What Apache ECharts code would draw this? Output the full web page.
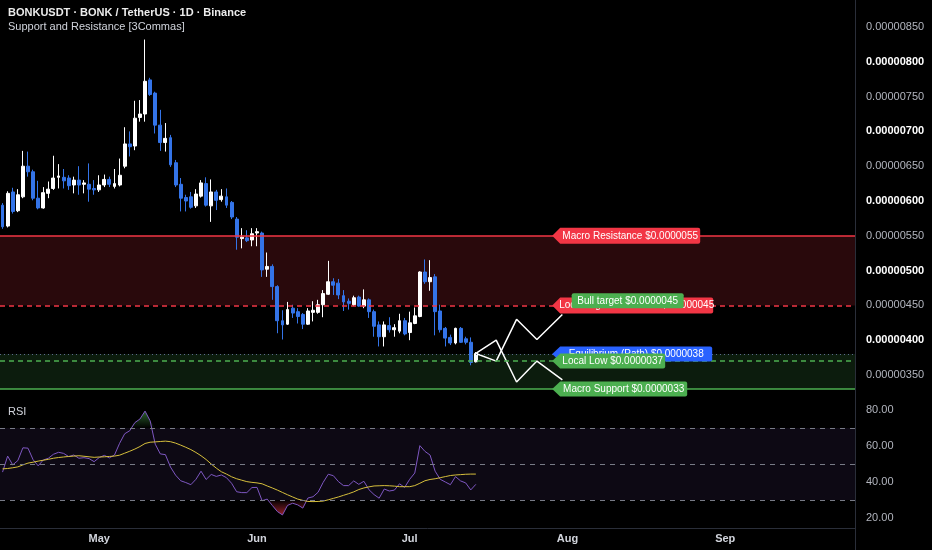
<!DOCTYPE html>
<html>
<head>
<meta charset="utf-8">
<script src="https://cdn.jsdelivr.net/npm/echarts@6/dist/echarts.min.js"></script>
<style>html,body{margin:0;padding:0;background:#000;}#c{width:932px;height:550px;}</style>
</head>
<body>
<div id="c"></div>
<script>
// ---------- DATA (prices in units of 1e-8 USDT) ----------
const startYear = 2024, startMonth = 3, startDay = 12; // first candle: Apr 12
const dayCount = 168;
const monthNames = ['Jan','Feb','Mar','Apr','May','Jun','Jul','Aug','Sep','Oct','Nov','Dec'];

// [open, close, low, high]
const candleData = [
[594,563,560,597],[564,611,562,614],[613,585,582,619],[586,609,584,617],[606,650,604,672],
[650,642,635,671],[642,604,601,645],[604,590,588,629],[590,612,589,620],[611,617,604,628],
[618,633,616,665],[634,636,618,653],[634,629,618,646],[633,622,616,637],[623,630,611,635],
[630,623,609,650],[624,626,611,630],[624,617,599,654],[618,616,609,630],[616,623,613,637],
[623,631,620,638],[631,624,620,635],[621,625,618,646],[623,637,621,661],[650,682,647,706],
[682,678,664,700],[679,719,673,744],[720,725,714,745],[725,772,714,832],[774,753,751,777],
[755,709,697,757],[709,684,672,731],[684,690,671,712],[691,652,649,695],[655,623,620,659],
[624,604,585,633],[605,600,585,609],[606,591,589,613],[593,610,590,617],[607,626,605,630],
[625,594,592,634],[593,613,570,631],[613,601,587,616],[602,607,599,617],[606,594,590,618],
[598,577,574,600],[574,548,530,577],[546,548,532,561],[547,543,541,558],[544,553,535,561],
[554,556,535,561],[554,501,491,556],[502,506,491,526],[506,477,458,509],[477,428,410,479],
[428,422,401,443],[423,444,422,455],[446,439,432,451],[441,434,424,446],[437,423,416,439],
[423,442,422,446],[440,443,427,456],[440,451,438,458],[451,467,433,472],[466,484,465,514],
[484,479,465,489],[482,465,459,488],[464,455,442,472],[456,453,444,460],[451,461,449,464],
[462,449,448,464],[449,458,446,473],[458,441,432,460],[441,420,405,444],[422,405,391,427],
[405,422,391,427],[421,415,411,433],[415,418,405,423],[413,428,410,438],[428,409,407,432],
[411,425,400,441],[424,435,423,447],[434,498,433,499],[498,484,481,516],[484,490,471,515],
[491,441,407,495],[442,415,411,451],[417,403,391,419],[404,396,393,408],[396,417,394,418],
[417,397,396,419],[402,397,394,405],[397,368,364,404],[369,381,368,383]
];

const rsiValues = [
45.5,54.4,49.5,51.9,59,58.8,52.4,49,52.2,53.2,
55.4,56.5,55.9,54.1,55,53.2,53.5,53,51.3,53.6,
54.8,53.4,55,61.5,66.8,68.5,73,75,79.4,74,
61,55.6,55.2,48.3,43.8,40.7,39.7,38.5,41.5,46,
41.4,44.2,43.1,43.9,42.4,39.3,34.6,34.1,34.1,36.9,
37,29.6,30.5,27,23.6,21.7,27,28.2,27.3,25.5,
31.1,31.8,34.3,39.8,44.3,43.5,40.2,38,38,40.6,
38.7,40.4,35.7,33,31,36.1,35,35.5,39,37,
41.5,45,60.2,57,55,46,41.5,40,38.5,43,
40.6,39.5,35.6,38.7
];
const rsiMaValues = [
47.3,47.5,47.9,48.4,49.5,50.5,51,51.6,52.1,52.6,
53.2,53.6,53.9,54.2,54.4,54.6,54.3,54,53.7,53.9,
54,54.2,54.4,54.9,56,57.1,58.3,59.7,61.4,62.1,
62.3,62.5,62.7,62.4,61.6,60.5,59.3,58,56.4,54.6,
52.5,50,47.7,45.7,44.4,42.9,41.8,41,40.2,39.8,
39.5,39,37.8,36.7,35.5,34.2,32.9,31.7,30.5,29.8,
29.2,29.1,29.2,29.4,30.1,30.9,31.7,32.6,33.5,34.5,
35.8,36.7,37.3,37.8,37.9,38,37.9,37.7,37.4,37.4,
37.4,38,39.3,40.7,41.4,41.8,42.4,43,43.6,43.9,
44.1,44.3,44.4,44.4
];
const rsiUpper = 70, rsiMid = 50, rsiLower = 30;

const levelNames = ['Macro Resistance','Local High Resistance','Equilibrium (Path)','Local Low','Macro Support'];
const levelPrices = [550, 450, 380, 370, 330];
const targetName = 'Bull target';
const targetPrice = 450;

const bullPathIdx = [93, 97, 101, 105, 110];
const bullPathVal = [381, 370, 430, 401, 437];
const bearPathIdx = [93, 97, 101, 105, 110];
const bearPathVal = [381, 400, 340, 370, 343];

const priceTicks = [350,400,450,500,550,600,650,700,750,800,850];
const rsiTicks = [20,40,60,80];

// ---------- BUILD ----------
const dates = [];
for (let i = 0; i < dayCount; i++) {
  const d = new Date(Date.UTC(startYear, startMonth, startDay + i));
  dates.push(d.toISOString().slice(0, 10));
}
const fmtPrice = p => '$' + (p / 1e8).toFixed(7);
const tagPath = (w, h) => 'path://M0,' + (h/2) + ' L8,0 L' + (w-2) + ',0 Q' + w + ',0 ' + w + ',2 L' + w + ',' + (h-2) +
  ' Q' + w + ',' + h + ' ' + (w-2) + ',' + h + ' L8,' + h + ' Z';
const boxPath = (w, h) => 'path://M2,0 L' + (w-2) + ',0 Q' + w + ',0 ' + w + ',2 L' + w + ',' + (h-2) +
  ' Q' + w + ',' + h + ' ' + (w-2) + ',' + h + ' L2,' + h + ' Q0,' + h + ' 0,' + (h-2) + ' L0,2 Q0,0 2,0 Z';

const RED = '#f23645', GREEN = '#4caf50', BLUE = '#2962ff';
const tagX = dates[108];
function tag(name, price, color, w, h) {
  return {
    coord: [tagX, price], symbol: tagPath(w, h), symbolSize: [w, h], symbolOffset: [w / 2, 0],
    itemStyle: { color: color },
    label: { show: true, position: 'inside', offset: [4, 0], formatter: name + ' ' + fmtPrice(price), color: '#ffffff', fontSize: 10 }
  };
}
const markPoints = [
  tag(levelNames[0], levelPrices[0], RED, 148, 16),
  tag(levelNames[1], levelPrices[1], RED, 161, 16),
  {
    coord: [tagX, targetPrice], symbol: boxPath(112, 15), symbolSize: [112, 15], symbolOffset: [75.5, -4.6],
    itemStyle: { color: GREEN },
    label: { show: true, position: 'inside', formatter: targetName + ' ' + fmtPrice(targetPrice), color: '#ffffff', fontSize: 10 }
  },
  tag(levelNames[2], levelPrices[2], BLUE, 160, 15),
  tag(levelNames[3], levelPrices[3], GREEN, 113, 15),
  tag(levelNames[4], levelPrices[4], GREEN, 135, 15)
];
const tagSeries = markPoints.map((mp, k) => ({
  name: 'tag' + k, type: 'line', xAxisIndex: 0, yAxisIndex: 0, data: [], z: 10 + k, silent: true,
  markPoint: { silent: true, z: 10 + k, data: [mp] }
}));

const pathData = (idx, vals) => idx.map((i, k) => [dates[i], vals[k]]);
const osBase = rsiValues.map(v => Math.min(v, rsiLower));
const osFill = rsiValues.map(v => rsiLower - Math.min(v, rsiLower));
const obBase = rsiValues.map(() => rsiUpper);
const obFill = rsiValues.map(v => Math.max(v, rsiUpper) - rsiUpper);

const FONT = 'Liberation Sans, Arial, sans-serif';
const option = {
  backgroundColor: '#000000',
  animation: false,
  textStyle: { fontFamily: FONT },
  title: [
    { text: 'BONKUSDT · BONK / TetherUS · 1D · Binance', left: 8, top: 7, padding: 0,
      textStyle: { color: '#ececec', fontSize: 11, fontWeight: 'bold', fontFamily: FONT } },
    { text: 'Support and Resistance [3Commas]', left: 8, top: 21, padding: 0,
      textStyle: { color: '#d1d4dc', fontSize: 11, fontWeight: 'normal', fontFamily: FONT } },
    { text: 'RSI', left: 8, top: 406, padding: 0,
      textStyle: { color: '#d1d4dc', fontSize: 11, fontWeight: 'normal', fontFamily: FONT } }
  ],
  graphic: [
    { type: 'line', shape: { x1: 855.5, y1: 0, x2: 855.5, y2: 550 }, style: { stroke: '#2a2e39', lineWidth: 1 }, z: 100 }
  ],
  grid: [
    { left: 0, right: 77, top: 0, bottom: 140.2 },
    { left: 0, right: 77, top: 401, bottom: 14 }
  ],
  xAxis: [
    { type: 'category', gridIndex: 0, data: dates, boundaryGap: true,
      axisLine: { show: false }, axisTick: { show: false }, axisLabel: { show: false }, splitLine: { show: false } },
    { type: 'category', gridIndex: 1, data: dates, boundaryGap: true, offset: -8,
      axisLine: { show: true, lineStyle: { color: '#2a2e39' } }, axisTick: { show: false }, splitLine: { show: false },
      axisLabel: { show: true, margin: 5, color: '#d1d4dc', fontSize: 11, fontWeight: 'bold',
        interval: (i, v) => v.slice(8) === '01',
        formatter: v => monthNames[+v.slice(5, 7) - 1] } }
  ],
  yAxis: [
    { type: 'value', gridIndex: 0, position: 'right', min: 300, max: 888.8, interval: 50,
      axisLine: { show: false }, axisTick: { show: false }, splitLine: { show: false },
      axisLabel: { margin: 11, fontSize: 11,
        formatter: v => {
          if (priceTicks.indexOf(v) < 0) return '';
          const s = (v / 1e8).toFixed(8);
          return v % 100 === 0 ? '{b|' + s + '}' : '{n|' + s + '}';
        },
        rich: { n: { color: '#b2b5be', fontSize: 11 }, b: { color: '#ffffff', fontSize: 11, fontWeight: 'bold' } } } },
    { type: 'value', gridIndex: 1, position: 'right', min: 10, max: 85, interval: 10,
      axisLine: { show: false }, axisTick: { show: false }, splitLine: { show: false },
      axisLabel: { margin: 11, fontSize: 11, color: '#b2b5be',
        formatter: v => rsiTicks.indexOf(v) < 0 ? '' : v.toFixed(2) } }
  ],
  series: [
    { name: 'levels', type: 'line', xAxisIndex: 0, yAxisIndex: 0, data: [], z: 1, silent: true,
      markArea: { silent: true, data: [
        [{ yAxis: levelPrices[0], itemStyle: { color: 'rgba(242,54,69,0.17)' } }, { yAxis: levelPrices[1] }],
        [{ yAxis: levelPrices[2], itemStyle: { color: 'rgba(76,175,80,0.16)' } }, { yAxis: levelPrices[4] }]
      ] },
      markLine: { silent: true, symbol: ['none', 'none'], label: { show: false }, data: [
        { yAxis: levelPrices[0], lineStyle: { color: RED, width: 1.5, type: 'solid' } },
        { yAxis: levelPrices[1], lineStyle: { color: RED, width: 1.5, type: [5, 4] } },
        { yAxis: levelPrices[2], lineStyle: { color: '#5d6a8c', width: 1, type: [1, 3] } },
        { yAxis: levelPrices[3], lineStyle: { color: GREEN, width: 1.5, type: [5, 4] } },
        { yAxis: levelPrices[4], lineStyle: { color: GREEN, width: 1.5, type: 'solid' } }
      ] } },
    { name: 'BONKUSDT', type: 'candlestick', xAxisIndex: 0, yAxisIndex: 0, data: candleData, z: 3,
      barWidth: 3.4,
      itemStyle: { color: '#ffffff', color0: '#3474e8', borderColor: '#ffffff', borderColor0: '#3474e8', borderWidth: 1 } },
    { name: 'bull', type: 'line', xAxisIndex: 0, yAxisIndex: 0, data: pathData(bullPathIdx, bullPathVal), z: 4,
      symbol: 'none', lineStyle: { color: '#ffffff', width: 1.5 } },
    { name: 'bear', type: 'line', xAxisIndex: 0, yAxisIndex: 0, data: pathData(bearPathIdx, bearPathVal), z: 4,
      symbol: 'none', lineStyle: { color: '#ffffff', width: 1.5 } },
    ...tagSeries,
    { name: 'rsiBands', type: 'line', xAxisIndex: 1, yAxisIndex: 1, data: [], z: 1, silent: true,
      markArea: { silent: true, data: [[{ yAxis: rsiUpper, itemStyle: { color: 'rgba(126,87,194,0.1)' } }, { yAxis: rsiLower }]] },
      markLine: { silent: true, symbol: ['none', 'none'], label: { show: false },
        lineStyle: { color: '#787b86', width: 1, type: [5, 5] },
        data: [{ yAxis: rsiUpper }, { yAxis: rsiMid }, { yAxis: rsiLower }] } },
    { name: 'osBase', type: 'line', xAxisIndex: 1, yAxisIndex: 1, data: osBase, stack: 'os', z: 2, symbol: 'none',
      silent: true, lineStyle: { opacity: 0 } },
    { name: 'osFill', type: 'line', xAxisIndex: 1, yAxisIndex: 1, data: osFill, stack: 'os', z: 2, symbol: 'none',
      silent: true, lineStyle: { opacity: 0 },
      areaStyle: { opacity: 1, color: new echarts.graphic.LinearGradient(0, 500, 0, 518,
        [{ offset: 0, color: 'rgba(242,54,69,0)' }, { offset: 1, color: 'rgba(242,54,69,0.75)' }], true) } },
    { name: 'obBase', type: 'line', xAxisIndex: 1, yAxisIndex: 1, data: obBase, stack: 'ob', z: 2, symbol: 'none',
      silent: true, lineStyle: { opacity: 0 } },
    { name: 'obFill', type: 'line', xAxisIndex: 1, yAxisIndex: 1, data: obFill, stack: 'ob', z: 2, symbol: 'none',
      silent: true, lineStyle: { opacity: 0 },
      areaStyle: { opacity: 1, color: new echarts.graphic.LinearGradient(0, 428, 0, 410,
        [{ offset: 0, color: 'rgba(76,175,80,0)' }, { offset: 1, color: 'rgba(76,175,80,0.6)' }], true) } },
    { name: 'RSI', type: 'line', xAxisIndex: 1, yAxisIndex: 1, data: rsiValues, z: 3, symbol: 'none',
      lineStyle: { color: '#7e57c2', width: 1 } },
    { name: 'RSI MA', type: 'line', xAxisIndex: 1, yAxisIndex: 1, data: rsiMaValues, z: 4, symbol: 'none',
      lineStyle: { color: '#d6bf3c', width: 1 } }
  ]
};
const chart = echarts.init(document.getElementById('c'));
chart.setOption(option);
</script>
</body>
</html>
